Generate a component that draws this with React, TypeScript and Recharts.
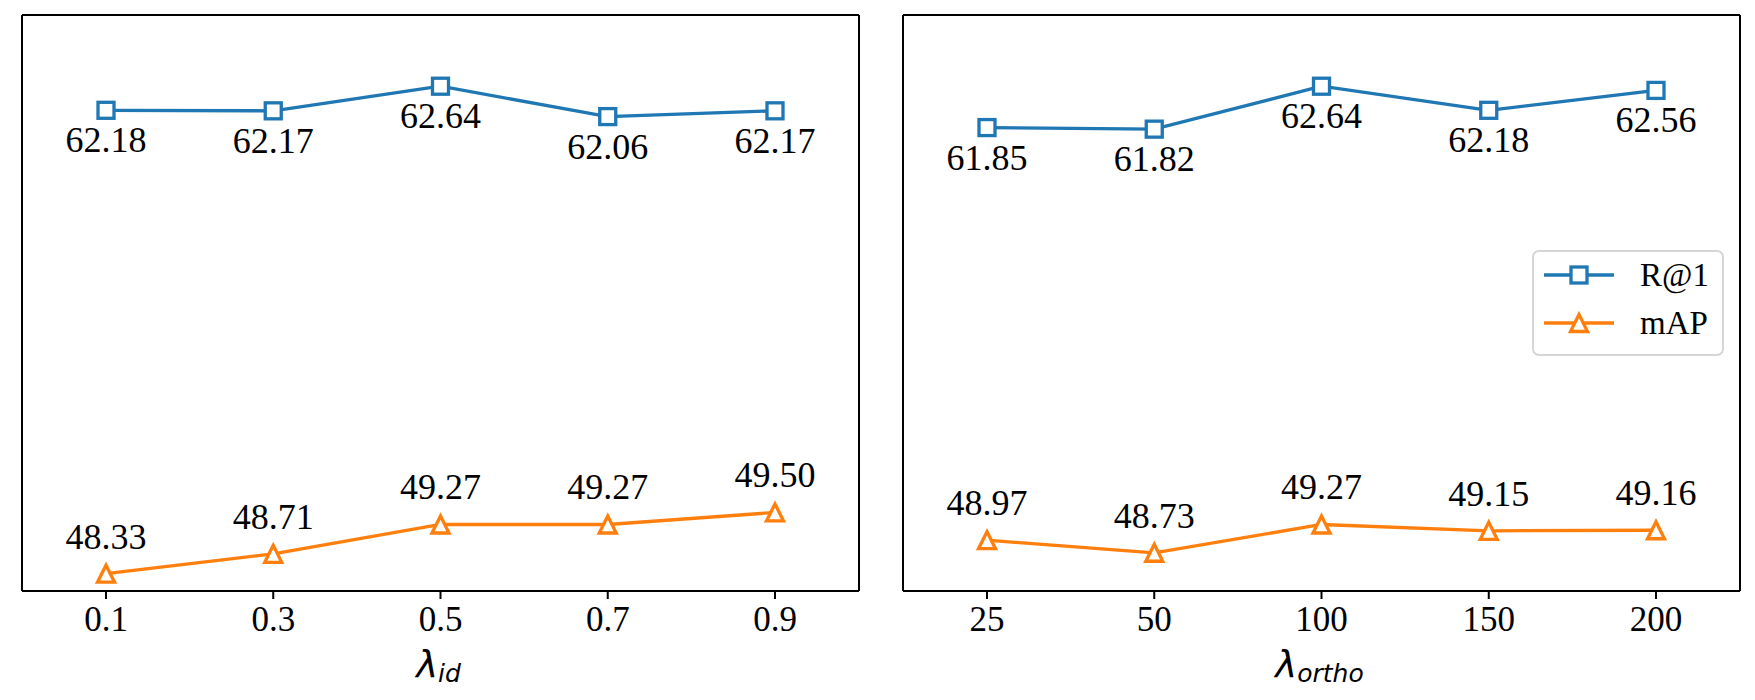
import React from 'react';
import { LineChart, Line, XAxis, YAxis, LabelList, Legend } from 'recharts';

// ---- data ----
const idLabels = ['0.1', '0.3', '0.5', '0.7', '0.9'];
const idR1 = [62.18, 62.17, 62.64, 62.06, 62.17];
const idMAP = [48.33, 48.71, 49.27, 49.27, 49.5];

const orthoLabels = ['25', '50', '100', '150', '200'];
const orthoR1 = [61.85, 61.82, 62.64, 62.18, 62.56];
const orthoMAP = [48.97, 48.73, 49.27, 49.15, 49.16];

const r1Domain = [53, 64];
const mapDomain = [48, 59];

const BLUE = '#1f77b4';
const ORANGE = '#ff7f0e';
const SERIF = 'Liberation Serif';

const build = (labels: string[], r: number[], m: number[]) =>
  labels.map((x, i) => ({ x, r: r[i], m: m[i] }));

const leftData = build(idLabels, idR1, idMAP);
const rightData = build(orthoLabels, orthoR1, orthoMAP);

const css = `
.serif-lbl { font-family: "Liberation Serif", "Times New Roman", serif; font-size: 36px; }
.serif-tick { font-family: "Liberation Serif", "Times New Roman", serif; font-size: 35px; }
.serif-leg { font-family: "Liberation Serif", "Times New Roman", serif; font-size: 33px; }
.math-txt { font-family: "DejaVu Sans", sans-serif; font-style: italic; }
`;

const SquareDot = (props: any) => {
  const { cx, cy, index } = props;
  if (cx == null || cy == null) return null;
  const s = 8;
  return (
    <rect
      key={`sq-${index}`}
      x={cx - s}
      y={cy - s}
      width={2 * s}
      height={2 * s}
      fill="#fff"
      stroke={BLUE}
      strokeWidth={3.3}
    />
  );
};

const TriDot = (props: any) => {
  const { cx, cy, index } = props;
  if (cx == null || cy == null) return null;
  const h = 8.5;
  return (
    <path
      key={`tr-${index}`}
      d={`M${cx},${cy - h} L${cx - h},${cy + h} L${cx + h},${cy + h} Z`}
      fill="#fff"
      stroke={ORANGE}
      strokeWidth={3.3}
      strokeLinejoin="miter"
    />
  );
};

const makeLabel = (dy: number) => (props: any) => {
  const { x, y, value, index } = props;
  return (
    <text
      key={`lb-${dy}-${index}`}
      className="serif-lbl"
      x={x}
      y={y + dy}
      textAnchor="middle"
      fontFamily={SERIF}
      fontSize={36}
      fill="#000"
    >
      {Number(value).toFixed(2)}
    </text>
  );
};

const XTick = (props: any) => {
  const { x, y, payload } = props;
  return (
    <text
      className="serif-tick"
      x={x}
      y={y + 24}
      textAnchor="middle"
      fill="#000"
      fontFamily={SERIF}
      fontSize={35}
    >
      {payload.value}
    </text>
  );
};

const XLabel = (props: any) => {
  const { viewBox, main, sub } = props;
  const cx = viewBox.x + viewBox.width / 2;
  return (
    <text className="math-txt" x={cx - 2} y={viewBox.y + 86} textAnchor="middle" fill="#000">
      <tspan fontSize={37}>{main}</tspan>
      <tspan fontSize={25} dy={5}>
        {sub}
      </tspan>
    </text>
  );
};

const LegendBox = () => (
  <svg width={194} height={108}>
    <rect x={1} y={1} width={190} height={104} rx={6} ry={6} fill="#fff" stroke="#d6d6d6" strokeWidth={2} />
    <line x1={12} y1={25} x2={82} y2={25} stroke={BLUE} strokeWidth={3.3} />
    <rect x={47 - 8} y={25 - 8} width={16} height={16} fill="#fff" stroke={BLUE} strokeWidth={3.3} />
    <text className="serif-leg" x={108} y={36} fill="#000">
      R@1
    </text>
    <line x1={12} y1={73} x2={82} y2={73} stroke={ORANGE} strokeWidth={3.3} />
    <path d={`M47,${73 - 8.5} L${47 - 8.5},${73 + 8.5} L${47 + 8.5},${73 + 8.5} Z`} fill="#fff" stroke={ORANGE} strokeWidth={3.3} />
    <text className="serif-leg" x={108} y={84} fill="#000">
      mAP
    </text>
  </svg>
);

const frame = { stroke: '#000', strokeWidth: 2 };

const Panel = (p: {
  data: any[];
  width: number;
  margin: any;
  main: string;
  sub: string;
  legend?: { left: number; top: number };
}) => (
  <LineChart width={p.width} height={700} data={p.data} margin={p.margin}>
    <XAxis
      dataKey="x"
      type="category"
      scale="point"
      padding={{ left: 84, right: 84 }}
      height={100}
      tickSize={8}
      tickMargin={8}
      axisLine={frame}
      tickLine={frame}
      tick={<XTick />}
      interval={0}
      label={<XLabel main={p.main} sub={p.sub} />}
    />
    <XAxis
      xAxisId="top"
      dataKey="x"
      type="category"
      scale="point"
      orientation="top"
      height={1}
      tick={false}
      tickLine={false}
      axisLine={frame}
    />
    <YAxis
      yAxisId="r"
      orientation="left"
      width={1}
      domain={r1Domain}
      type="number"
      allowDataOverflow
      tick={false}
      tickLine={false}
      axisLine={frame}
    />
    <YAxis
      yAxisId="m"
      orientation="right"
      width={1}
      domain={mapDomain}
      type="number"
      allowDataOverflow
      tick={false}
      tickLine={false}
      axisLine={frame}
    />
    <Line
      yAxisId="r"
      type="linear"
      dataKey="r"
      name="R@1"
      stroke={BLUE}
      strokeWidth={3.3}
      dot={SquareDot}
      activeDot={false}
      isAnimationActive={false}
    >
      <LabelList dataKey="r" content={makeLabel(42)} />
    </Line>
    <Line
      yAxisId="m"
      type="linear"
      dataKey="m"
      name="mAP"
      stroke={ORANGE}
      strokeWidth={3.3}
      dot={TriDot}
      activeDot={false}
      isAnimationActive={false}
    >
      <LabelList dataKey="m" content={makeLabel(-25)} />
    </Line>
    {p.legend && (
      <Legend
        layout="vertical"
        align="center"
        verticalAlign="middle"
        content={() => <LegendBox />}
        wrapperStyle={{ position: 'absolute', left: p.legend.left, top: p.legend.top, width: 194, height: 108 }}
      />
    )}
  </LineChart>
);

export default function App() {
  return (
    <div style={{ position: 'absolute', left: 0, top: 0, width: 1755, height: 700, background: '#fff' }}>
      <style>{css}</style>
      <div style={{ position: 'absolute', left: 0, top: 0 }}>
        <Panel data={leftData} width={880} margin={{ top: 14, left: 21, right: 20, bottom: 9 }} main="λ" sub="id" />
      </div>
      <div style={{ position: 'absolute', left: 880, top: 0 }}>
        <Panel
          data={rightData}
          width={875}
          margin={{ top: 14, left: 22, right: 14, bottom: 9 }}
          main="λ"
          sub="ortho"
          legend={{ left: 1532 - 880, top: 250 }}
        />
      </div>
    </div>
  );
}
